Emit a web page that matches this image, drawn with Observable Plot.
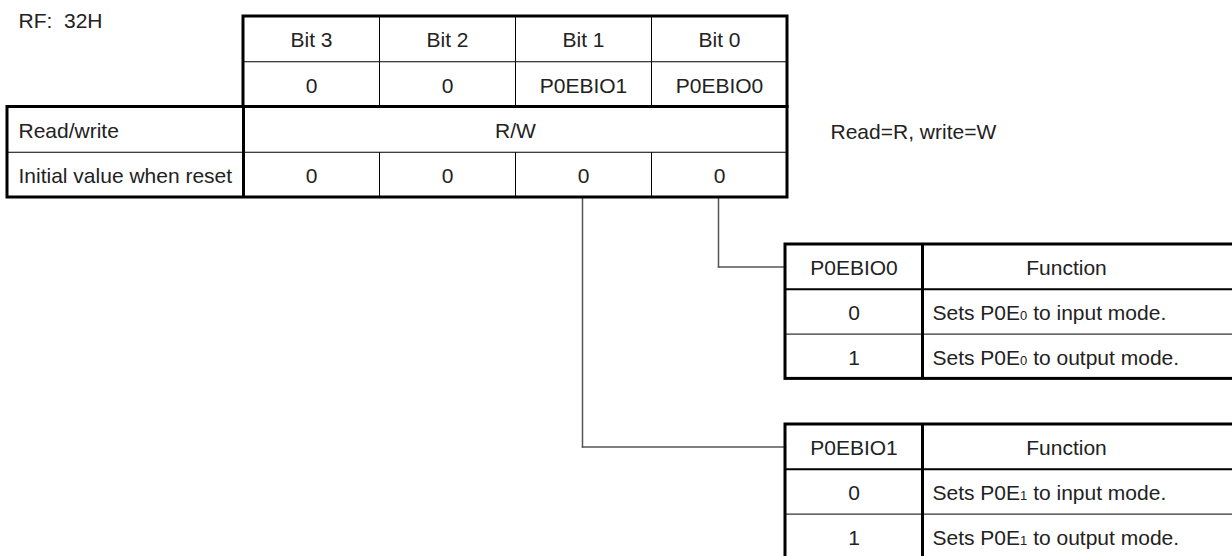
<!DOCTYPE html>
<html>
<head>
<meta charset="utf-8">
<script src="https://cdn.jsdelivr.net/npm/d3@7"></script>
<script src="https://cdn.jsdelivr.net/npm/@observablehq/plot@0.6"></script>
<style>
  html, body { margin: 0; padding: 0; background: #fff; }
  #chart svg { display: block; }
</style>
</head>
<body>
<div id="chart"></div>
<script>
// ---------- data ----------
const registerAddress = "RF:  32H";
const bitLabels = ["Bit 3", "Bit 2", "Bit 1", "Bit 0"];
const bitNames = ["0", "0", "P0EBIO1", "P0EBIO0"];
const rowLabels = ["Read/write", "Initial value when reset"];
const readWrite = "R/W";
const initialValues = ["0", "0", "0", "0"];
const rwNote = "Read=R, write=W";

const funcHeaders = ["P0EBIO0", "P0EBIO1"];      // table order (top, bottom)
const funcBitIndex = [3, 2];                      // column in register of each table's bit
const funcTitle = "Function";
const funcValues = ["0", "1"];
const funcDescs = [
  ["Sets P0E\u2080 to input mode.", "Sets P0E\u2080 to output mode."],
  ["Sets P0E\u2081 to input mode.", "Sets P0E\u2081 to output mode."]
];

// ---------- layout ----------
const W = 1232, H = 556;
const regLeft = 7, bitLeft = 243, bitW = 136, regTop = 16, rowH = 45.25;
const bitX = i => bitLeft + i * bitW;
const regRight = bitX(4);
const rowY = j => regTop + j * rowH;

const fLeft = 785, fDiv = 922, fRight = 1240, fRowH = 44.8, fTextRight = 1210;
const fTops = [244, 424];

const thin = [], medium = [], boxes = [], thickSeg = [], conn = [];
const tCenter = [], tStart = [];

// register table
boxes.push({x1: bitLeft, y1: rowY(0), x2: regRight, y2: rowY(2)});
boxes.push({x1: regLeft, y1: rowY(2), x2: regRight, y2: rowY(4)});
thickSeg.push({x1: bitLeft, y1: rowY(2), x2: bitLeft, y2: rowY(4)});
thin.push({x1: bitLeft, y1: rowY(1), x2: regRight, y2: rowY(1)});
thin.push({x1: regLeft, y1: rowY(3), x2: regRight, y2: rowY(3)});
for (let i = 1; i < 4; i++) {
  thin.push({x1: bitX(i), y1: rowY(0), x2: bitX(i), y2: rowY(2)});
  thin.push({x1: bitX(i), y1: rowY(3), x2: bitX(i), y2: rowY(4)});
}
bitLabels.forEach((t, i) => tCenter.push({x: bitX(i) + bitW / 2, y: rowY(0) + rowH / 2, text: t}));
bitNames.forEach((t, i) => tCenter.push({x: bitX(i) + bitW / 2, y: rowY(1) + rowH / 2, text: t}));
tCenter.push({x: (bitLeft + regRight) / 2, y: rowY(2) + rowH / 2, text: readWrite});
initialValues.forEach((t, i) => tCenter.push({x: bitX(i) + bitW / 2, y: rowY(3) + rowH / 2, text: t}));
rowLabels.forEach((t, j) => tStart.push({x: regLeft + 11, y: rowY(2 + j) + rowH / 2, text: t}));
tStart.push({x: 18, y: 19, text: registerAddress});
tStart.push({x: 830, y: rowY(2) + rowH / 2 + 1, text: rwNote});

// function tables
fTops.forEach((top, k) => {
  const ry = j => top + j * fRowH;
  boxes.push({x1: fLeft, y1: ry(0), x2: fRight, y2: ry(3)});
  thickSeg.push({x1: fDiv, y1: ry(0), x2: fDiv, y2: ry(3)});
  medium.push({x1: fLeft, y1: ry(1), x2: fRight, y2: ry(1)});
  thin.push({x1: fLeft, y1: ry(2), x2: fRight, y2: ry(2)});
  tCenter.push({x: (fLeft + fDiv) / 2, y: ry(0) + fRowH / 2, text: funcHeaders[k]});
  tCenter.push({x: (fDiv + fTextRight) / 2, y: ry(0) + fRowH / 2, text: funcTitle});
  funcValues.forEach((v, j) => {
    tCenter.push({x: (fLeft + fDiv) / 2, y: ry(1 + j) + fRowH / 2, text: v});
    tStart.push({x: fDiv + 10, y: ry(1 + j) + fRowH / 2, text: funcDescs[k][j]});
  });
  // connector from bit column down to table
  const cx = bitX(funcBitIndex[k]) + bitW / 2 - 1;
  const cy = top + fRowH / 2;
  conn.push({x1: cx, y1: rowY(4), x2: cx, y2: cy});
  conn.push({x1: cx, y1: cy, x2: fLeft, y2: cy});
});

const font = "'Liberation Sans', Arial, Helvetica, sans-serif";
const fs = 21;
const txtDy = 1.5;
const chart = Plot.plot({
  width: W, height: H, margin: 0,
  x: {type: "linear", domain: [0, W], range: [0, W], axis: null},
  y: {type: "linear", domain: [0, H], range: [0, H], axis: null},
  style: {fontFamily: font, background: "#fff"},
  marks: [
    Plot.link(thin, {x1: "x1", y1: "y1", x2: "x2", y2: "y2", stroke: "#000", strokeWidth: 1}),
    Plot.link(medium, {x1: "x1", y1: "y1", x2: "x2", y2: "y2", stroke: "#000", strokeWidth: 2}),
    Plot.link(conn, {x1: "x1", y1: "y1", x2: "x2", y2: "y2", stroke: "#555", strokeWidth: 1.5, strokeLinecap: "square"}),
    Plot.link(thickSeg, {x1: "x1", y1: "y1", x2: "x2", y2: "y2", stroke: "#000", strokeWidth: 3}),
    Plot.rect(boxes, {x1: "x1", y1: "y1", x2: "x2", y2: "y2", fill: "none", stroke: "#000", strokeWidth: 3}),
    Plot.text(tCenter, {x: "x", y: "y", text: "text", textAnchor: "middle", fontSize: fs, fill: "#222", dy: txtDy}),
    Plot.text(tStart, {x: "x", y: "y", text: "text", textAnchor: "start", fontSize: fs, fill: "#222", dy: txtDy})
  ]
});

// render subscript digits (U+2080..U+2089) as small baseline digits, as in the reference
const subRe = /([\u2080-\u2089])/;
chart.querySelectorAll("text").forEach(el => {
  const s = el.textContent;
  if (!subRe.test(s)) return;
  const parts = s.split(subRe);
  while (el.firstChild) el.removeChild(el.firstChild);
  const ns = "http://www.w3.org/2000/svg";
  parts.forEach(p => {
    if (!p) return;
    const ts = document.createElementNS(ns, "tspan");
    if (subRe.test(p)) {
      ts.textContent = String.fromCharCode(p.charCodeAt(0) - 0x2080 + 48);
      ts.setAttribute("font-size", "0.62em");
    } else {
      ts.textContent = p;
    }
    el.appendChild(ts);
  });
});

document.getElementById("chart").appendChild(chart);
</script>
</body>
</html>
